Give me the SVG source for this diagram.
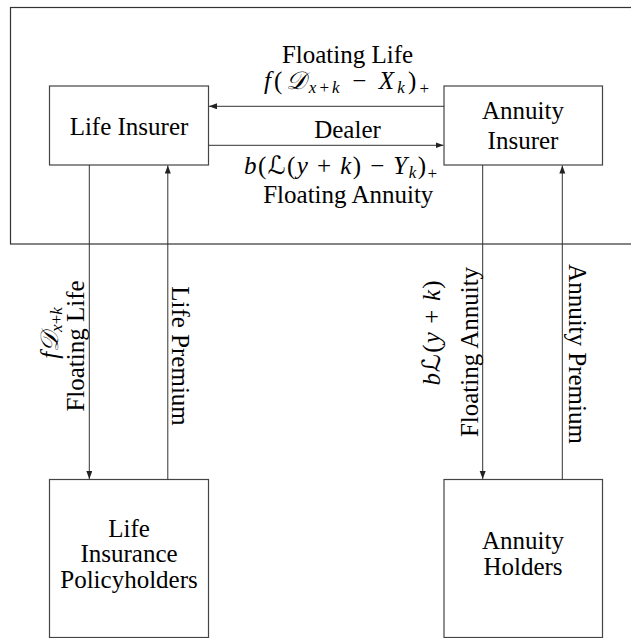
<svg xmlns="http://www.w3.org/2000/svg" width="631" height="638" viewBox="0 0 631 638" font-family="'Liberation Serif', 'Times New Roman', serif">
<style>
text{font-family:"Liberation Serif","Times New Roman",serif;font-size:25px;fill:#000}
.box{fill:none;stroke:#444;stroke-width:1.2}
.frame{fill:none;stroke:#333;stroke-width:1.2}
.edge{fill:none;stroke:#333;stroke-width:1}
.i{font-style:italic}
.sub{font-size:17px}
.cal{font-family:"DejaVu Serif","DejaVu Sans",serif;font-style:italic}
</style>
<defs>
<marker id="ah" markerUnits="userSpaceOnUse" markerWidth="9" markerHeight="7" refX="8" refY="3" orient="auto">
<path d="M0,0 L8,3 L0,6 z" fill="#222"/>
</marker>
</defs>
<rect id="frame" class="frame" x="10.5" y="7.5" width="640" height="236.5"/>
<g id="life-insurer">
<rect class="box" x="49.5" y="86" width="159" height="79"/>
<text x="129" y="135" text-anchor="middle">Life Insurer</text>
</g>
<g id="annuity-insurer">
<rect class="box" x="444" y="86" width="158.5" height="79"/>
<text x="523" y="118.5" text-anchor="middle">Annuity</text>
<text x="523" y="148.5" text-anchor="middle">Insurer</text>
</g>
<g id="life-policyholders">
<rect class="box" x="49.5" y="479.5" width="159" height="158"/>
<text x="129" y="536.5" text-anchor="middle">Life</text>
<text x="129" y="562" text-anchor="middle">Insurance</text>
<text x="129" y="587.5" text-anchor="middle">Policyholders</text>
</g>
<g id="annuity-holders">
<rect class="box" x="444" y="479.5" width="158.5" height="158"/>
<text x="523" y="548.5" text-anchor="middle">Annuity</text>
<text x="523" y="575" text-anchor="middle">Holders</text>
</g>
<g id="connectors">
<line class="edge" x1="444" y1="106.3" x2="209" y2="106.3" marker-end="url(#ah)"/>
<line class="edge" x1="208.5" y1="145.3" x2="443.5" y2="145.3" marker-end="url(#ah)"/>
<line class="edge" x1="89.3" y1="165" x2="89.3" y2="479" marker-end="url(#ah)"/>
<line class="edge" x1="167.8" y1="479.5" x2="167.8" y2="165.5" marker-end="url(#ah)"/>
<line class="edge" x1="482.7" y1="165" x2="482.7" y2="479" marker-end="url(#ah)"/>
<line class="edge" x1="562.3" y1="479.5" x2="562.3" y2="165.5" marker-end="url(#ah)"/>
</g>
<g id="labels">
<text x="347.5" y="62.7" text-anchor="middle">Floating Life</text>
<text x="264" y="88.5" textLength="165" lengthAdjust="spacing"><tspan class="i">f</tspan>(<tspan class="cal">𝒟</tspan><tspan class="sub i" dy="4">x</tspan><tspan class="sub">+</tspan><tspan class="sub i">k</tspan><tspan dy="-4"> − </tspan><tspan class="i">X</tspan><tspan class="sub i" dy="4">k</tspan><tspan dy="-4">)</tspan><tspan class="sub" dy="5">+</tspan></text>
<text x="347.5" y="138.3" text-anchor="middle">Dealer</text>
<text x="244" y="174" textLength="193" lengthAdjust="spacing"><tspan class="i">b</tspan>(<tspan class="cal">ℒ</tspan>(<tspan class="i">y</tspan> + <tspan class="i">k</tspan>) − <tspan class="i">Y</tspan><tspan class="sub i" dy="4">k</tspan><tspan dy="-4">)</tspan><tspan class="sub" dy="5">+</tspan></text>
<text x="348.3" y="203.3" text-anchor="middle">Floating Annuity</text>
<text transform="translate(57.5,333) rotate(-90)" text-anchor="middle"><tspan class="i">f</tspan><tspan class="cal">𝒟</tspan><tspan class="sub i" dy="4">x</tspan><tspan class="sub">+</tspan><tspan class="sub i">k</tspan></text>
<text transform="translate(83.5,346) rotate(-90)" text-anchor="middle">Floating Life</text>
<text transform="translate(172,356) rotate(90)" text-anchor="middle">Life Premium</text>
<text transform="translate(440,333) rotate(-90)" text-anchor="middle" textLength="105" lengthAdjust="spacing"><tspan class="i">b</tspan><tspan class="cal">ℒ</tspan>(<tspan class="i">y</tspan> + <tspan class="i">k</tspan>)</text>
<text transform="translate(478,352) rotate(-90)" text-anchor="middle">Floating Annuity</text>
<text transform="translate(568.5,354) rotate(90)" text-anchor="middle">Annuity Premium</text>
</g>
</svg>
